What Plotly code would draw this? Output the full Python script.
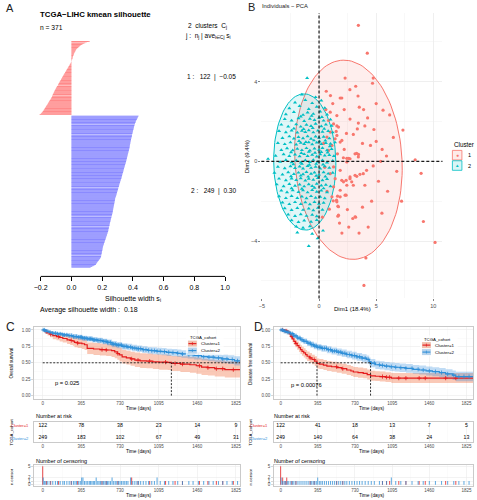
import numpy as np
import plotly.graph_objects as go

W, H = 477, 500
FONT = "Liberation Sans, Arial, Helvetica, sans-serif"
RED, BLUE = "#E41A1C", "#2E8FD8"
RED_BAND, BLUE_BAND = "rgba(240,100,50,0.35)", "rgba(46,140,223,0.30)"
PCA_RED, PCA_CYAN = "#F8766D", "#00BFC4"


def fx(px):
    return px / W


def fy(py):
    return 1 - py / H


# ---------------- Panel A: silhouette widths (sorted within cluster) ----------------
sil_c1 = [0.120, 0.112, 0.100, 0.090, 0.080, 0.072, 0.066, 0.060, 0.055, 0.050, 0.046, 0.042, 0.038, 0.034,
          0.030, 0.028, 0.026, 0.024, 0.022, 0.020, 0.018, 0.016, 0.015, 0.013, 0.012, 0.010, 0.009, 0.008,
          0.007, 0.006, 0.005, 0.003, 0.002, 0.001, -0.001, -0.003, -0.005, -0.007, -0.010, -0.012, -0.014,
          -0.017, -0.019, -0.021, -0.024, -0.026, -0.028, -0.031, -0.033, -0.035, -0.038, -0.040, -0.042,
          -0.045, -0.047, -0.050, -0.052, -0.054, -0.056, -0.059, -0.061, -0.063, -0.066, -0.068, -0.070,
          -0.072, -0.075, -0.077, -0.079, -0.081, -0.084, -0.086, -0.088, -0.090, -0.093, -0.095, -0.097,
          -0.100, -0.102, -0.104, -0.106, -0.108, -0.110, -0.112, -0.114, -0.116, -0.118, -0.120, -0.122,
          -0.123, -0.125, -0.126, -0.128, -0.130, -0.132, -0.135, -0.137, -0.140, -0.142, -0.145, -0.147,
          -0.150, -0.152, -0.155, -0.157, -0.160, -0.162, -0.165, -0.167, -0.170, -0.172, -0.175, -0.177,
          -0.180, -0.182, -0.185, -0.188, -0.191, -0.195, -0.199, -0.204, -0.210]
sil_c2 = [0.437, 0.434, 0.432, 0.430, 0.428, 0.426, 0.424, 0.422, 0.420, 0.418, 0.417, 0.416, 0.414, 0.413,
          0.411, 0.410, 0.409, 0.408, 0.407, 0.406, 0.405, 0.404, 0.403, 0.402, 0.401, 0.400, 0.399, 0.398,
          0.397, 0.396, 0.395, 0.394, 0.394, 0.393, 0.392, 0.391, 0.390, 0.389, 0.388, 0.388, 0.387, 0.386,
          0.385, 0.384, 0.383, 0.383, 0.382, 0.381, 0.380, 0.380, 0.379, 0.378, 0.378, 0.377, 0.376, 0.375,
          0.374, 0.373, 0.372, 0.371, 0.370, 0.369, 0.368, 0.367, 0.366, 0.365, 0.364, 0.363, 0.362, 0.361,
          0.360, 0.359, 0.358, 0.357, 0.356, 0.355, 0.354, 0.353, 0.352, 0.350, 0.349, 0.348, 0.347, 0.346,
          0.345, 0.343, 0.342, 0.341, 0.340, 0.339, 0.338, 0.337, 0.336, 0.335, 0.333, 0.332, 0.331, 0.330,
          0.329, 0.328, 0.327, 0.326, 0.325, 0.324, 0.322, 0.321, 0.320, 0.318, 0.317, 0.316, 0.315, 0.313,
          0.312, 0.311, 0.310, 0.309, 0.308, 0.306, 0.305, 0.304, 0.303, 0.302, 0.301, 0.300, 0.298, 0.297,
          0.296, 0.295, 0.294, 0.293, 0.292, 0.290, 0.289, 0.288, 0.286, 0.285, 0.284, 0.284, 0.283, 0.282,
          0.281, 0.281, 0.280, 0.279, 0.278, 0.278, 0.277, 0.276, 0.275, 0.275, 0.274, 0.273, 0.272, 0.272,
          0.271, 0.270, 0.269, 0.269, 0.268, 0.267, 0.266, 0.265, 0.264, 0.263, 0.262, 0.261, 0.260, 0.259,
          0.258, 0.257, 0.256, 0.255, 0.254, 0.253, 0.252, 0.251, 0.250, 0.249, 0.248, 0.248, 0.247, 0.246,
          0.245, 0.244, 0.243, 0.242, 0.241, 0.240, 0.240, 0.239, 0.238, 0.236, 0.235, 0.234, 0.232, 0.231,
          0.230, 0.228, 0.227, 0.226, 0.224, 0.223, 0.222, 0.220, 0.219, 0.218, 0.216, 0.215, 0.214, 0.212,
          0.211, 0.210, 0.208, 0.207, 0.206, 0.205, 0.204, 0.203, 0.202, 0.202, 0.201, 0.200, 0.199, 0.198,
          0.198, 0.197, 0.196, 0.195, 0.194, 0.194, 0.193, 0.192, 0.191, 0.189, 0.186, 0.183, 0.180, 0.177,
          0.174, 0.171, 0.168, 0.165, 0.162, 0.160, 0.157, 0.150, 0.142, 0.134, 0.125]
sil_ticks = [-0.2, 0.0, 0.2, 0.4, 0.6, 0.8, 1.0]
sil_ticktext = ["\u22120.2", "0.0", "0.2", "0.4", "0.6", "0.8", "1.0"]

# ---------------- Panel B: PCA individuals ----------------
pca_c1 = [(3.44, 6.83), (4.22, 5.43), (2.28, 4.18), (4.74, 4.18), (4.68, 3.92), (3.21, 3.77), (0.63, 3.52),
          (1.85, 3.18), (1.99, 3.18), (3.41, 3.28), (3.52, 2.72), (5.6, 2.57), (6.18, 2.33), (2.71, 2.12),
          (4.25, 2.18), (3.44, 1.92), (4.01, 1.78), (7.34, 1.57), (3.35, 1.63), (3.0, 1.35), (1.56, 1.78),
          (1.5, 1.5), (1.56, 1.3), (5.52, 0.6), (3.29, 0.4), (3.45, 0.35), (5.9, 0.27), (2.43, 0.15),
          (2.6, 0.15), (8.41, 0.08), (8.93, -0.6), (4.74, -0.23), (9.13, -3.02), (10.15, -4.07), (4.1, -4.85),
          (3.93, -6.23), (2.48, -2.42), (2.95, -2.87), (3.2, -2.8), (1.79, -3.1), (1.65, -2.75), (1.65, -2.25),
          (1.62, -1.75), (7.22, -2.0), (1.24, -1.98), (1.53, -1.95), (0.98, 2.47), (1.56, 2.3), (0.83, 2.05),
          (1.27, 1.88), (1.7, 1.72), (0.98, 1.47), (0.69, 1.22), (1.41, 1.13), (1.85, 0.97), (1.13, 0.8),
          (0.83, 0.55), (1.61, 0.38), (2.13, 0.18), (2.71, 0.13), (2.43, -0.03), (3.15, 0.38), (3.44, 0.22),
          (1.27, -0.28), (1.85, -0.45), (0.98, -0.62), (1.41, -0.87), (1.99, -0.95), (2.71, -0.78),
          (3.3, -0.75), (2.43, -1.2), (2.86, -1.03), (1.27, -1.28), (1.85, -1.45), (1.13, -1.78),
          (1.56, -2.03), (2.28, -1.7), (1.7, -2.28), (1.7, -2.7), (3.15, -2.78), (4.16, -0.45), (3.87, -0.62),
          (3.58, -0.65), (3.15, -0.7), (2.71, -0.87), (2.37, -0.95), (2.14, -1.03), (3.0, -1.2), (4.01, -1.2),
          (1.85, -1.78), (2.37, -1.7), (5.0, 1.0), (4.5, 0.8), (6.5, 1.2), (5.2, -1.0), (6.0, -1.5),
          (4.6, -2.0), (3.8, -2.3), (5.5, -2.6), (4.3, -3.3), (2.0, -3.6), (2.6, -3.3), (3.5, -3.6),
          (5.0, 2.9), (2.7, 3.6), (1.2, 2.9), (0.6, 2.6), (2.2, 2.6), (3.9, 2.6), (4.8, 1.6), (2.4, 1.4),
          (2.0, 1.05), (3.8, 0.9), (2.2, 0.6), (0.4, 0.9), (0.5, -0.3), (0.7, -1.5), (0.9, -2.4), (0.3, -2.8),
          (1.0, 3.3), (6.8, -0.5), (5.4, 0.0)]
pca_c2 = [(-1.04, 4.18), (-1.5, 3.35), (-0.3, 3.22), (-2.1, 2.95), (-1.2, 3.08), (-0.6, 2.92), (0.2, 3.05),
          (-2.6, 2.66), (-1.7, 2.78), (-0.9, 2.62), (-0.2, 2.74), (0.5, 2.68), (-2.9, 2.36), (-2.2, 2.47),
          (-1.4, 2.33), (-1.0, 2.45), (-0.5, 2.38), (0.1, 2.5), (0.7, 2.35), (-3.0, 2.12), (-2.4, 2.05),
          (-1.8, 2.16), (-1.3, 2.02), (-0.8, 2.14), (-0.4, 2.07), (0.0, 2.18), (0.4, 2.04), (1.0, 2.1),
          (-3.3, 1.84), (-2.7, 1.75), (-2.0, 1.86), (-1.6, 1.74), (-1.1, 1.83), (-0.7, 1.77), (-0.3, 1.88),
          (0.2, 1.76), (0.6, 1.85), (1.1, 1.78), (-3.5, 1.52), (-2.9, 1.46), (-2.4, 1.55), (-1.9, 1.44),
          (-1.5, 1.53), (-1.2, 1.47), (-0.9, 1.56), (-0.5, 1.45), (-0.1, 1.54), (0.3, 1.48), (0.8, 1.52),
          (1.2, 1.45), (-3.2, 1.17), (-2.6, 1.25), (-2.2, 1.14), (-1.8, 1.22), (-1.4, 1.16), (-1.0, 1.26),
          (-0.7, 1.13), (-0.3, 1.24), (0.0, 1.18), (0.4, 1.23), (0.9, 1.15), (-3.6, 0.92), (-3.0, 0.86),
          (-2.5, 0.95), (-2.0, 0.84), (-1.6, 0.93), (-1.3, 0.87), (-0.9, 0.96), (-0.6, 0.85), (-0.2, 0.94),
          (0.2, 0.86), (0.6, 0.92), (1.0, 0.88), (1.4, 0.95), (-3.3, 0.57), (-2.8, 0.65), (-2.3, 0.55),
          (-1.9, 0.63), (-1.5, 0.56), (-1.1, 0.66), (-0.8, 0.54), (-0.4, 0.64), (0.0, 0.58), (0.3, 0.67),
          (0.7, 0.55), (1.1, 0.62), (-3.8, 0.28), (-3.1, 0.35), (-2.6, 0.26), (-2.1, 0.34), (-1.7, 0.25),
          (-1.3, 0.36), (-1.0, 0.27), (-0.6, 0.33), (-0.2, 0.24), (0.1, 0.35), (0.5, 0.29), (0.9, 0.32),
          (1.3, 0.26), (-4.46, 0.12), (-3.4, -0.03), (-2.9, 0.06), (-2.4, -0.05), (-2.0, 0.04), (-1.6, -0.06),
          (-1.2, 0.05), (-0.8, -0.04), (-0.5, 0.07), (-0.1, -0.02), (0.3, 0.05), (0.7, -0.06), (1.2, 0.03),
          (-3.6, -0.27), (-3.0, -0.35), (-2.5, -0.25), (-2.1, -0.34), (-1.7, -0.26), (-1.4, -0.36),
          (-1.0, -0.24), (-0.7, -0.33), (-0.3, -0.27), (0.1, -0.36), (0.5, -0.25), (0.9, -0.32),
          (-3.9, -0.58), (-3.2, -0.66), (-2.7, -0.55), (-2.2, -0.64), (-1.8, -0.57), (-1.4, -0.65),
          (-1.1, -0.54), (-0.7, -0.63), (-0.4, -0.56), (0.0, -0.67), (0.4, -0.55), (0.8, -0.62), (1.2, -0.58),
          (-3.5, -0.87), (-2.9, -0.95), (-2.4, -0.86), (-2.0, -0.94), (-1.6, -0.85), (-1.2, -0.96),
          (-0.9, -0.88), (-0.5, -0.93), (-0.1, -0.84), (0.3, -0.95), (0.7, -0.89), (-3.7, -1.16), (-3.1, -1.25),
          (-2.6, -1.14), (-2.1, -1.23), (-1.7, -1.17), (-1.3, -1.26), (-0.9, -1.15), (-0.6, -1.24),
          (-0.2, -1.13), (0.2, -1.22), (0.6, -1.18), (1.0, -1.25), (-3.3, -1.47), (-2.8, -1.55), (-2.3, -1.45),
          (-1.8, -1.54), (-1.4, -1.46), (-1.0, -1.56), (-0.6, -1.44), (-0.2, -1.53), (0.2, -1.47), (0.7, -1.55),
          (-3.5, -1.76), (-2.9, -1.85), (-2.4, -1.74), (-1.9, -1.84), (-1.5, -1.77), (-1.1, -1.86),
          (-0.7, -1.75), (-0.3, -1.83), (0.1, -1.78), (0.5, -1.86), (-3.2, -2.07), (-2.6, -2.15), (-2.1, -2.05),
          (-1.6, -2.14), (-1.2, -2.06), (-0.8, -2.16), (-0.4, -2.04), (0.0, -2.13), (0.4, -2.08), (-3.0, -2.36),
          (-2.4, -2.45), (-1.9, -2.35), (-1.4, -2.44), (-0.9, -2.37), (-0.5, -2.46), (-0.1, -2.34), (0.3, -2.43),
          (-2.7, -2.67), (-2.1, -2.75), (-1.6, -2.66), (-1.1, -2.74), (-0.6, -2.68), (-0.2, -2.76),
          (-2.4, -2.96), (-1.8, -3.05), (-1.3, -2.97), (-0.7, -3.04), (-0.2, -2.95), (-2.0, -3.27),
          (-1.4, -3.34), (-0.8, -3.26), (0.35, -3.48), (-1.9, -3.58), (-0.6, -3.64), (-0.12, -3.87),
          (-0.9, -4.25), (-1.75, 1.02), (-1.15, 0.97), (-0.45, 1.05), (0.05, 0.99), (0.55, 1.04), (-2.45, 0.45),
          (-1.55, 0.42), (-0.9, 0.48), (-0.35, 0.43), (0.2, 0.47), (0.75, 0.44), (-2.25, -0.15), (-1.5, -0.12),
          (-0.85, -0.17), (-0.25, -0.13), (0.35, -0.16), (-2.45, -0.75), (-1.6, -0.72), (-0.95, -0.77),
          (-0.25, -0.73), (0.55, -0.76), (-2.2, 1.65), (-1.35, 1.62), (-0.55, 1.67), (0.45, 1.63), (-1.6, 2.25),
          (-0.65, 2.28), (0.25, 2.22), (-2.4, -1.35), (-1.5, -1.38), (-0.4, -1.33), (0.4, -1.36), (0.95, 0.75)]
pca1_x = [p[0] for p in pca_c1]
pca1_y = [p[1] for p in pca_c1]
pca2_x = [p[0] for p in pca_c2]
pca2_y = [p[1] for p in pca_c2]
# concentration ellipses: centre x, centre y, half-width, half-height, shear
ell_c1 = (2.57, 0.08, 4.69, 5.0, -0.4)
ell_c2 = (-1.25, -0.03, 2.72, 3.42, -0.07)

# ---------------- Panel C: overall survival ----------------
os1_t = [0, 20, 45, 70, 95, 130, 160, 190, 230, 260, 285, 300, 330, 370, 395, 420, 480, 540, 600, 650, 680,
         705, 725, 750, 790, 830, 870, 920, 980, 1040, 1100, 1180, 1215, 1300, 1390, 1450, 1500, 1560, 1625,
         1720, 1865]
os1_s = [1.0, 0.975, 0.955, 0.935, 0.915, 0.9, 0.885, 0.87, 0.85, 0.84, 0.83, 0.81, 0.8, 0.79, 0.775, 0.72,
         0.71, 0.7, 0.695, 0.685, 0.665, 0.64, 0.62, 0.59, 0.575, 0.56, 0.54, 0.53, 0.525, 0.515, 0.51, 0.505,
         0.49, 0.48, 0.47, 0.455, 0.435, 0.425, 0.41, 0.395, 0.395]
os1_hi = [1.0, 1.0, 0.99, 0.98, 0.965, 0.955, 0.945, 0.935, 0.92, 0.91, 0.905, 0.89, 0.88, 0.87, 0.86, 0.81,
          0.80, 0.795, 0.79, 0.785, 0.765, 0.745, 0.725, 0.70, 0.685, 0.67, 0.655, 0.645, 0.64, 0.63, 0.625,
          0.62, 0.605, 0.6, 0.59, 0.58, 0.56, 0.55, 0.54, 0.525, 0.525]
os1_lo = [1.0, 0.945, 0.915, 0.89, 0.86, 0.845, 0.825, 0.81, 0.785, 0.77, 0.76, 0.735, 0.725, 0.71, 0.695,
          0.635, 0.62, 0.61, 0.605, 0.59, 0.57, 0.545, 0.52, 0.49, 0.475, 0.455, 0.435, 0.42, 0.415, 0.405,
          0.395, 0.39, 0.375, 0.36, 0.35, 0.335, 0.315, 0.305, 0.29, 0.275, 0.275]
os2_t = [0, 30, 60, 95, 140, 190, 240, 285, 330, 375, 420, 470, 520, 565, 610, 655, 700, 750, 800, 845, 890,
         940, 990, 1030, 1080, 1125, 1170, 1220, 1270, 1310, 1370, 1430, 1500, 1560, 1625, 1690, 1750, 1810,
         1865]
os2_s = [1.0, 0.98, 0.965, 0.95, 0.94, 0.925, 0.915, 0.9, 0.89, 0.875, 0.865, 0.85, 0.84, 0.825, 0.81, 0.785,
         0.77, 0.75, 0.74, 0.725, 0.715, 0.70, 0.69, 0.685, 0.675, 0.67, 0.66, 0.655, 0.645, 0.635, 0.625,
         0.61, 0.595, 0.585, 0.575, 0.56, 0.55, 0.53, 0.515]
os2_hi = [1.0, 0.995, 0.985, 0.975, 0.968, 0.955, 0.947, 0.935, 0.927, 0.913, 0.905, 0.891, 0.882, 0.868,
          0.854, 0.831, 0.817, 0.798, 0.789, 0.775, 0.765, 0.751, 0.742, 0.737, 0.728, 0.724, 0.715, 0.71,
          0.701, 0.692, 0.683, 0.669, 0.655, 0.646, 0.637, 0.624, 0.616, 0.6, 0.587]
os2_lo = [1.0, 0.963, 0.944, 0.924, 0.911, 0.894, 0.882, 0.864, 0.852, 0.836, 0.824, 0.808, 0.797, 0.781,
          0.765, 0.738, 0.722, 0.701, 0.69, 0.674, 0.664, 0.648, 0.637, 0.632, 0.621, 0.615, 0.604, 0.599,
          0.588, 0.577, 0.566, 0.55, 0.534, 0.523, 0.512, 0.495, 0.483, 0.46, 0.442]
os_cens1_t = [0, 35, 75, 150, 270, 330, 560, 600, 710, 840, 900, 1010, 1160, 1250, 1320, 1480, 1560, 1640,
              1700, 1800]
os_cens1_n = [5, 1, 1, 1, 1, 1, 1, 1, 1, 2, 1, 1, 1, 1, 1, 1, 1, 1, 1, 1]
os_cens2_t = [5, 18, 30, 48, 70, 95, 120, 140, 165, 190, 205, 228, 250, 270, 290, 305, 320, 340, 355, 368,
              380, 395, 410, 425, 440, 452, 465, 478, 490, 505, 520, 532, 545, 560, 575, 588, 600, 612, 625,
              640, 655, 670, 685, 700, 715, 730, 745, 760, 775, 790, 805, 830, 850, 870, 890, 905, 925, 950,
              975, 1000, 1030, 1055, 1080, 1110, 1150, 1190, 1230, 1275, 1320, 1380, 1420, 1470, 1520, 1570,
              1610, 1660, 1700, 1740, 1790, 1840]
os_cens2_n = [2, 1, 1, 1, 1, 1, 1, 1, 1, 1, 1, 1, 1, 1, 1, 1, 1, 1, 1, 2, 2, 1, 1, 1, 1, 1, 1, 1, 1, 2,
              1, 1, 1, 1, 1, 1, 1, 1, 1, 1, 2, 1, 1, 1, 1, 1, 1, 1, 1, 1, 1, 2, 1, 1, 1, 1, 1, 1, 1, 1,
              1, 1, 2, 1, 1, 1, 1, 1, 1, 1, 1, 1, 1, 1, 1, 1, 1, 1, 1, 1]
os_risk1 = [122, 78, 38, 23, 14, 9]
os_risk2 = [249, 183, 102, 67, 49, 31]

# ---------------- Panel D: disease free survival ----------------
dfs1_t = [0, 40, 65, 85, 100, 115, 130, 145, 162, 180, 195, 210, 227, 245, 260, 285, 308, 335, 357, 380, 420,
          454, 500, 552, 600, 649, 690, 714, 760, 811, 850, 883, 930, 974, 1030, 1087, 1889]
dfs1_s = [1.0, 0.985, 0.967, 0.94, 0.90, 0.865, 0.827, 0.795, 0.762, 0.73, 0.70, 0.675, 0.65, 0.625, 0.60,
          0.575, 0.55, 0.525, 0.49, 0.48, 0.465, 0.45, 0.44, 0.426, 0.41, 0.39, 0.375, 0.36, 0.35, 0.34, 0.32,
          0.30, 0.295, 0.29, 0.28, 0.266, 0.266]
dfs1_hi = [1.0, 1.0, 0.995, 0.98, 0.95, 0.92, 0.885, 0.855, 0.825, 0.795, 0.768, 0.744, 0.72, 0.696, 0.672,
           0.648, 0.624, 0.6, 0.566, 0.556, 0.542, 0.527, 0.517, 0.503, 0.487, 0.467, 0.452, 0.437, 0.427,
           0.417, 0.397, 0.377, 0.372, 0.367, 0.357, 0.343, 0.343]
dfs1_lo = [1.0, 0.963, 0.935, 0.9, 0.852, 0.812, 0.77, 0.735, 0.7, 0.665, 0.633, 0.606, 0.58, 0.554, 0.528,
           0.502, 0.476, 0.45, 0.414, 0.404, 0.389, 0.374, 0.364, 0.35, 0.334, 0.314, 0.299, 0.284, 0.274,
           0.264, 0.245, 0.226, 0.221, 0.216, 0.207, 0.194, 0.194]
dfs2_t = [0, 30, 60, 97, 130, 162, 195, 227, 260, 292, 325, 357, 400, 454, 500, 552, 600, 649, 700, 747, 800,
          844, 870, 883, 930, 974, 1020, 1071, 1120, 1168, 1230, 1298, 1360, 1428, 1490, 1558, 1620, 1688,
          1720, 1889]
dfs2_s = [1.0, 0.98, 0.965, 0.943, 0.91, 0.877, 0.85, 0.827, 0.80, 0.776, 0.755, 0.737, 0.72, 0.70, 0.68,
          0.662, 0.645, 0.626, 0.61, 0.591, 0.57, 0.551, 0.52, 0.495, 0.47, 0.46, 0.45, 0.44, 0.432, 0.426,
          0.415, 0.401, 0.39, 0.376, 0.365, 0.351, 0.33, 0.311, 0.29, 0.29]
dfs2_hi = [1.0, 0.997, 0.987, 0.971, 0.943, 0.914, 0.89, 0.869, 0.845, 0.823, 0.804, 0.787, 0.771, 0.753,
           0.734, 0.717, 0.701, 0.683, 0.668, 0.65, 0.63, 0.612, 0.582, 0.557, 0.533, 0.523, 0.514, 0.504,
           0.497, 0.491, 0.481, 0.467, 0.457, 0.444, 0.434, 0.421, 0.401, 0.383, 0.363, 0.363]
dfs2_lo = [1.0, 0.963, 0.943, 0.915, 0.877, 0.84, 0.81, 0.785, 0.755, 0.729, 0.706, 0.687, 0.669, 0.647,
           0.626, 0.607, 0.589, 0.569, 0.552, 0.532, 0.51, 0.49, 0.458, 0.433, 0.407, 0.397, 0.386, 0.376,
           0.367, 0.361, 0.349, 0.335, 0.323, 0.308, 0.296, 0.281, 0.259, 0.239, 0.217, 0.217]
dfs_cens1_t = [0, 20, 45, 60, 110, 150, 290, 330, 550, 610, 1000, 1040, 1070, 1160, 1230, 1360, 1420, 1620,
               1720]
dfs_cens1_n = [5, 2, 1, 2, 1, 1, 1, 1, 1, 1, 1, 1, 1, 1, 1, 1, 1, 1, 1]
dfs_cens2_t = [5, 20, 35, 50, 65, 80, 100, 115, 130, 150, 170, 190, 210, 230, 250, 270, 290, 305, 320, 335,
               350, 364, 380, 395, 410, 430, 450, 470, 490, 510, 530, 550, 570, 590, 610, 630, 650, 675, 700,
               725, 750, 775, 800, 830, 860, 890, 920, 970, 1000, 1040, 1087, 1130, 1180, 1230, 1290, 1350,
               1400, 1460, 1520, 1580, 1640, 1700, 1750, 1800, 1850]
dfs_cens2_n = [2, 1, 1, 1, 1, 1, 1, 1, 1, 1, 1, 1, 1, 1, 1, 1, 1, 1, 1, 1, 1, 2, 1, 1, 1, 1, 1, 1, 1, 1,
               1, 1, 1, 1, 1, 1, 1, 1, 1, 1, 1, 1, 1, 1, 1, 1, 1, 1, 1, 1, 2, 1, 1, 1, 1, 1, 1, 1, 1, 1,
               1, 1, 1, 1, 1]
dfs_risk1 = [122, 41, 18, 13, 7, 5]
dfs_risk2 = [249, 140, 64, 38, 24, 13]

time_ticks = [0, 365, 730, 1095, 1460, 1825]
time_minor = [182.5, 547.5, 912.5, 1277.5, 1642.5]
surv_ticks = [0, 0.25, 0.5, 0.75, 1.0]
surv_ticktext = ["0.00", "0.25", "0.50", "0.75", "1.00"]
cens_ticks = [0, 1, 2, 5]

fig = go.Figure()
ann = []
shp = []


def text(px, py, s, size, color="#000000", anchor="left", angle=0, vanchor="middle"):
    ann.append(dict(x=fx(px), y=fy(py), xref="paper", yref="paper", text=s, showarrow=False,
                    xanchor=anchor, yanchor=vanchor, textangle=angle,
                    font=dict(size=size, color=color, family=FONT)))


def rect(x0, y0, x1, y1, fill, line="rgba(0,0,0,0)", lw=0):
    shp.append(dict(type="rect", xref="paper", yref="paper", x0=fx(x0), x1=fx(x1), y0=fy(y1), y1=fy(y0),
                    fillcolor=fill, line=dict(color=line, width=lw), layer="above"))


def pline(x0, y0, x1, y1, color, w):
    shp.append(dict(type="line", xref="paper", yref="paper", x0=fx(x0), x1=fx(x1), y0=fy(y0), y1=fy(y1),
                    line=dict(color=color, width=w), layer="above"))


# ===== Panel A =====
pos1 = list(range(len(sil_c1)))
pos2 = [len(sil_c1) + 1 + i for i in range(len(sil_c2))]
fig.add_trace(go.Bar(x=sil_c1, y=pos1, orientation="h", width=0.8,
                     marker=dict(color="#FF6464", line=dict(width=0)), xaxis="x", yaxis="y", hoverinfo="skip"))
fig.add_trace(go.Bar(x=sil_c2, y=pos2, orientation="h", width=0.8,
                     marker=dict(color="#6464FF", line=dict(width=0)), xaxis="x", yaxis="y", hoverinfo="skip"))
shp.append(dict(type="line", xref="x", yref="paper", x0=-0.2, x1=1.0, y0=fy(276.5), y1=fy(276.5),
                line=dict(color="#000000", width=1), layer="above"))

# ===== Panel B =====
def ellipse(params, n=120):
    cx, cy, a, b, sh = params
    t = np.linspace(0, 2 * np.pi, n)
    return cx + a * np.cos(t) + sh * np.sin(t), cy + b * np.sin(t)


ex1, ey1 = ellipse(ell_c1)
ex2, ey2 = ellipse(ell_c2)
fig.add_trace(go.Scatter(x=ex1, y=ey1, mode="lines", fill="toself", fillcolor="rgba(248,118,109,0.12)",
                         line=dict(color=PCA_RED, width=1), xaxis="x2", yaxis="y2", hoverinfo="skip"))
fig.add_trace(go.Scatter(x=ex2, y=ey2, mode="lines", fill="toself", fillcolor="rgba(0,191,196,0.12)",
                         line=dict(color=PCA_CYAN, width=1), xaxis="x2", yaxis="y2", hoverinfo="skip"))
fig.add_trace(go.Scatter(x=pca1_x, y=pca1_y, mode="markers",
                         marker=dict(symbol="circle", size=3.2, color=PCA_RED), xaxis="x2", yaxis="y2"))
fig.add_trace(go.Scatter(x=pca2_x, y=pca2_y, mode="markers",
                         marker=dict(symbol="triangle-up", size=3.6, color=PCA_CYAN), xaxis="x2", yaxis="y2"))
for d in [dict(x0=0, x1=0, y0=0, y1=1, xref="x2", yref="y2 domain"),
          dict(x0=0, x1=1, y0=0, y1=0, xref="x2 domain", yref="y2")]:
    d.update(type="line", line=dict(color="#1A1A1A", width=1.2, dash="3px,2px"), layer="above")
    shp.append(d)

# ===== KM panels =====
def step_value(t, s, tc):
    idx = np.searchsorted(np.array(t), tc, side="right") - 1
    return [s[i] for i in idx]


def km_panel(xa, ya, xa_c, ya_c, curves, xmax):
    for (t, s, lo, hi, col, band, ct, cn) in curves:
        fig.add_trace(go.Scatter(x=t, y=lo, mode="lines", line=dict(width=0, shape="hv"), xaxis=xa,
                                 yaxis=ya, hoverinfo="skip"))
        fig.add_trace(go.Scatter(x=t, y=hi, mode="lines", line=dict(width=0, shape="hv"), fill="tonexty",
                                 fillcolor=band, xaxis=xa, yaxis=ya, hoverinfo="skip"))
    meds = []
    for (t, s, lo, hi, col, band, ct, cn) in curves:
        fig.add_trace(go.Scatter(x=t, y=s, mode="lines", line=dict(color=col, width=1.2, shape="hv"),
                                 xaxis=xa, yaxis=ya, hoverinfo="skip"))
        ctp = [c for c in ct if c > 0]
        fig.add_trace(go.Scatter(x=ctp, y=step_value(t, s, ctp), mode="markers",
                                 marker=dict(symbol="cross-thin", size=3, line=dict(color=col, width=0.8)),
                                 xaxis=xa, yaxis=ya, hoverinfo="skip"))
        fig.add_trace(go.Bar(x=ct, y=cn, width=10, marker=dict(color=col, line=dict(width=0)), opacity=0.75,
                             xaxis=xa_c, yaxis=ya_c, hoverinfo="skip"))
        m = next((ti for ti, si in zip(t, s) if si <= 0.5), None)
        meds.append(m)
    hx = max(meds) if all(m is not None for m in meds) else xmax
    dash = dict(color="#1A1A1A", width=0.9, dash="2px,1.5px")
    shp.append(dict(type="line", xref=xa, yref=ya, x0=0, x1=hx, y0=0.5, y1=0.5, line=dash, layer="above"))
    for m in meds:
        if m is not None:
            shp.append(dict(type="line", xref=xa, yref=ya, x0=m, x1=m, y0=0, y1=0.5, line=dash, layer="above"))


C_RANGE = [-80, 1865]
D_RANGE = [-65, 1889]
km_panel("x3", "y3", "x5", "y5",
         [(os1_t, os1_s, os1_lo, os1_hi, RED, RED_BAND, os_cens1_t, os_cens1_n),
          (os2_t, os2_s, os2_lo, os2_hi, BLUE, BLUE_BAND, os_cens2_t, os_cens2_n)], C_RANGE[1])
km_panel("x6", "y6", "x8", "y8",
         [(dfs1_t, dfs1_s, dfs1_lo, dfs1_hi, RED, RED_BAND, dfs_cens1_t, dfs_cens1_n),
          (dfs2_t, dfs2_s, dfs2_lo, dfs2_hi, BLUE, BLUE_BAND, dfs_cens2_t, dfs_cens2_n)], D_RANGE[1])

# risk tables
for xa, ya, r1, r2 in [("x4", "y4", os_risk1, os_risk2), ("x7", "y7", dfs_risk1, dfs_risk2)]:
    fig.add_trace(go.Scatter(x=time_ticks, y=[2] * 6, mode="text", text=[str(v) for v in r1],
                             textfont=dict(size=5.2, color="#000000", family=FONT), xaxis=xa, yaxis=ya))
    fig.add_trace(go.Scatter(x=time_ticks, y=[1] * 6, mode="text", text=[str(v) for v in r2],
                             textfont=dict(size=5.2, color="#000000", family=FONT), xaxis=xa, yaxis=ya))

# ===== axes =====
small = dict(size=4.5, color="#4D4D4D", family=FONT)


def time_axis(dom, rng, anchor):
    return dict(domain=dom, range=rng, anchor=anchor, tickvals=time_ticks, ticktext=[str(v) for v in time_ticks],
                showgrid=True, gridcolor="#EBEBEB", gridwidth=0.6,
                minor=dict(tickvals=time_minor, showgrid=True, gridcolor="#F4F4F4", gridwidth=0.4),
                zeroline=False, showline=True, mirror=True, linecolor="#BDBDBD", linewidth=0.8,
                ticks="", ticklen=0, tickfont=small, fixedrange=True)


def val_axis(dom, rng, anchor, tv, tt, minor=None, grid=True):
    d = dict(domain=dom, range=rng, anchor=anchor, showgrid=grid,
             gridcolor="#EBEBEB", gridwidth=0.6, zeroline=False, showline=True, mirror=True,
             linecolor="#BDBDBD", linewidth=0.8, ticklen=2, tickwidth=0.6,
             tickcolor="#BDBDBD", tickfont=small, fixedrange=True)
    if tv:
        d.update(tickvals=tv, ticktext=tt, ticks="outside")
    else:
        d.update(showticklabels=False, ticks="")
    if minor:
        d["minor"] = dict(tickvals=minor, showgrid=True, gridcolor="#F4F4F4", gridwidth=0.4)
    return d


C_X = [fx(31.5), fx(239.2)]
D_X = [fx(273.3), fx(474.0)]
KM_Y = [fy(399.5), fy(327.0)]
RISK_Y = [fy(442.5), fy(422.3)]
CENS_Y = [fy(487.0), fy(466.0)]

layout_axes = dict(
    xaxis=dict(domain=[fx(30.25), fx(231.75)], range=[-0.25, 1.05], anchor="y", tickvals=sil_ticks,
               ticktext=sil_ticktext, ticks="outside", ticklen=4, tickwidth=1, tickcolor="#000000",
               showgrid=False, zeroline=False, showline=False, tickfont=dict(size=7, color="#000000"),
               fixedrange=True),
    yaxis=dict(domain=[fy(276.5), fy(38)], range=[386.1, -3.78], visible=False, fixedrange=True),
    xaxis2=dict(domain=[fx(260.5), fx(443.2)], range=[-5.05, 10.8], anchor="y2", tickvals=[-5, 0, 5, 10],
                showgrid=True, gridcolor="#EBEBEB", gridwidth=0.8,
                minor=dict(tickvals=[-2.5, 2.5, 7.5], showgrid=True, gridcolor="#F2F2F2", gridwidth=0.5),
                zeroline=False, showline=False, ticks="outside", ticklen=2, tickwidth=0.6, tickcolor="#333333",
                tickfont=dict(size=5.5, color="#4D4D4D"), fixedrange=True),
    yaxis2=dict(domain=[fy(298.6), fy(12)], range=[-6.88, 7.45], anchor="x2", tickvals=[-4, 0, 4],
                showgrid=True, gridcolor="#EBEBEB", gridwidth=0.8,
                minor=dict(tickvals=[-6, -2, 2, 6], showgrid=True, gridcolor="#F2F2F2", gridwidth=0.5),
                zeroline=False, showline=False, ticks="outside", ticklen=2, tickwidth=0.6, tickcolor="#333333",
                tickfont=dict(size=5.5, color="#4D4D4D"), fixedrange=True),
    xaxis3=time_axis(C_X, C_RANGE, "y3"),
    yaxis3=val_axis(KM_Y, [-0.05, 1.05], "x3", surv_ticks, surv_ticktext,
                    minor=[0.125, 0.375, 0.625, 0.875]),
    xaxis4=time_axis(C_X, C_RANGE, "y4"),
    yaxis4=val_axis(RISK_Y, [0.65, 2.36], "x4", [], [], grid=False),
    xaxis5=time_axis(C_X, C_RANGE, "y5"),
    yaxis5=val_axis(CENS_Y, [-0.33, 5.3], "x5", cens_ticks, [str(v) for v in cens_ticks]),
    xaxis6=time_axis(D_X, D_RANGE, "y6"),
    yaxis6=val_axis(KM_Y, [-0.05, 1.05], "x6", surv_ticks, surv_ticktext,
                    minor=[0.125, 0.375, 0.625, 0.875]),
    xaxis7=time_axis(D_X, D_RANGE, "y7"),
    yaxis7=val_axis(RISK_Y, [0.65, 2.36], "x7", [], [], grid=False),
    xaxis8=time_axis(D_X, D_RANGE, "y8"),
    yaxis8=val_axis(CENS_Y, [-0.33, 5.3], "x8", cens_ticks, [str(v) for v in cens_ticks]),
)

# ===== text: panel A =====
NB = "\u00a0"
text(1.5, 7, "A", 11, "#222222")
text(35.7, 14, "<b>TCGA\u2212LIHC kmean silhouette</b>", 7.8)
text(35.7, 27, "n = 371", 6.7)
text(206, 25, "2" + NB * 2 + "clusters" + NB * 2 + "C<sub>j</sub>", 6.5, anchor="center")
text(206, 35, "j :" + NB * 2 + "n<sub>j</sub> | ave<sub>i\u2208Cj</sub> s<sub>i</sub>", 6.5, anchor="center")
text(236.5, 76, "1 :" + NB * 3 + "122" + NB * 2 + "|" + NB * 2 + "\u22120.05", 6.5, anchor="right")
text(236.5, 190.7, "2 :" + NB * 3 + "249" + NB * 2 + "|" + NB * 2 + "0.30", 6.5, anchor="right")
text(131, 299.5, "Silhouette width s<sub>i</sub>", 7, anchor="center")
text(35.7, 310, "Average silhouette width :" + NB * 2 + "0.18", 7)

# ===== text: panel B =====
text(245.5, 6, "B", 11, "#222222")
text(259.3, 5, "Individuals \u2212 PCA", 5.8, "#222222")
text(352, 309.3, "Dim1 (18.4%)", 6, anchor="center")
text(246, 156, "Dim2 (9.4%)", 6, anchor="center", angle=-90)
text(453.3, 144.3, "Cluster", 6.3)
rect(453.2, 150, 462.8, 159.6, "rgba(248,118,109,0.15)", PCA_RED, 0.8)
rect(453.2, 160.4, 462.8, 170, "rgba(0,191,196,0.15)", PCA_CYAN, 0.8)
text(458, 155, "\u25cf", 5, PCA_RED, anchor="center")
text(458, 165.2, "\u25b2", 4.5, PCA_CYAN, anchor="center")
text(466.5, 155, "1", 5.5)
text(466.5, 165.2, "2", 5.5)

# ===== text: panels C / D =====
for (ox, lab_x, lab, ytitle, pval, pvx, pvy, ttl_x, leg_x, leg_y, risk_lab_x, ylab_x) in [
        (0, 1.5, "C", "Overall survival", "p = 0.025", 50, 383.3, 137, 186.5, 338, 28.5, 8.3),
        (240, 251, "D", "Disease free survival", "p = 0.00076", 288, 385.7, 372, 422.5, 339.5, 269.5, 249.5)]:
    text(lab_x, 327, lab, 12, "#222222")
    text(ylab_x, 363.7, ytitle, 4.5, anchor="center", angle=-90)
    text(ttl_x, 409, "Time (days)", 4.8, anchor="center")
    text(pvx, pvy, pval, 5.8)
    # legend
    rect(leg_x - 2, leg_y - 4, leg_x + 36, leg_y + 17.5, "rgba(255,255,255,0.75)")
    text(leg_x, leg_y, "TCGA_cohort", 4.3)
    for k, (col, band, name) in enumerate([(RED, RED_BAND, "Cluster=1"), (BLUE, BLUE_BAND, "Cluster=2")]):
        yc = leg_y + 6 + 7 * k
        rect(leg_x, yc - 3, leg_x + 9, yc + 3, "#F2F2F2")
        rect(leg_x, yc - 3, leg_x + 9, yc + 3, band)
        pline(leg_x + 0.5, yc, leg_x + 8.5, yc, col, 1.1)
        pline(leg_x + 4.5, yc - 1.5, leg_x + 4.5, yc + 1.5, col, 0.7)
        text(leg_x + 11, yc, name, 4.4)
    # risk table
    text(ox + 31, 416.7, "Number at risk", 5.5)
    text(ylab_x, 433, "TCGA_cohort", 4.3, anchor="center", angle=-90)
    text(risk_lab_x, 426.7, "Cluster=1", 4, RED, anchor="right")
    text(risk_lab_x, 439, "Cluster=2", 4, BLUE, anchor="right")
    text(ttl_x, 452.8, "Time (days)", 4.8, anchor="center")
    # censoring
    text(ox + 31, 461.7, "Number of censoring", 5.5)
    text(ylab_x, 478, "n.censor", 4.3, anchor="center", angle=-90)
    text(ttl_x, 496.8, "Time (days)", 4.8, anchor="center")

fig.update_layout(width=W, height=H, margin=dict(l=0, r=0, t=0, b=0, pad=0), paper_bgcolor="white",
                  plot_bgcolor="white", showlegend=False, barmode="overlay",
                  font=dict(family=FONT, color="#000000"), annotations=ann, shapes=shp, **layout_axes)
fig.write_html("out.html", config={"displayModeBar": False, "staticPlot": True},
               post_script="document.body.style.margin='0px';document.body.style.padding='0px';"
                           "document.body.style.overflow='hidden';")
